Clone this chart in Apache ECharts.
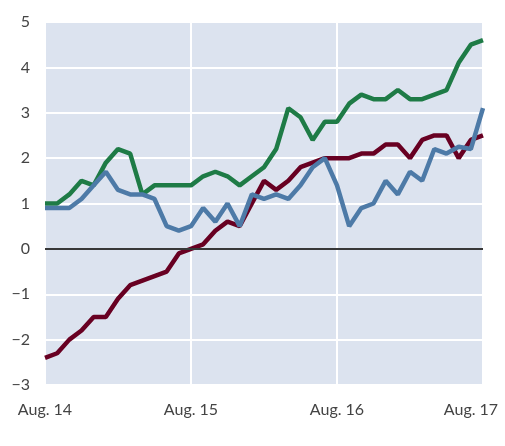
<!DOCTYPE html>
<html>
<head>
    <meta charset="utf-8">
    <title>ECharts</title>
    <script src="https://cdn.jsdelivr.net/npm/echarts@6/dist/echarts.min.js"></script>
    <style>
        html, body { margin: 0; padding: 0; background: #fff; }
    </style>
</head>
<body>
    <div id="main" style="width: 505px;height:446px;"></div>

    <script>
        // months, Aug. 14 .. Aug. 17
        var months = [
            'Aug. 14', 'Sep. 14', 'Oct. 14', 'Nov. 14', 'Dec. 14', 'Jan. 15', 'Feb. 15', 'Mar. 15',
            'Apr. 15', 'May. 15', 'Jun. 15', 'Jul. 15', 'Aug. 15', 'Sep. 15', 'Oct. 15', 'Nov. 15',
            'Dec. 15', 'Jan. 16', 'Feb. 16', 'Mar. 16', 'Apr. 16', 'May. 16', 'Jun. 16', 'Jul. 16',
            'Aug. 16', 'Sep. 16', 'Oct. 16', 'Nov. 16', 'Dec. 16', 'Jan. 17', 'Feb. 17', 'Mar. 17',
            'Apr. 17', 'May. 17', 'Jun. 17', 'Jul. 17', 'Aug. 17'
        ];

        // green series
        var greenData = [
            1.0, 1.0, 1.2, 1.5, 1.4, 1.9, 2.2, 2.1, 1.2, 1.4, 1.4, 1.4, 1.4,
            1.6, 1.7, 1.6, 1.4, 1.6, 1.8, 2.2, 3.1, 2.9, 2.4, 2.8, 2.8,
            3.2, 3.4, 3.3, 3.3, 3.5, 3.3, 3.3, 3.4, 3.5, 4.1, 4.5, 4.6
        ];

        // maroon series
        var redData = [
            -2.4, -2.3, -2.0, -1.8, -1.5, -1.5, -1.1, -0.8, -0.7, -0.6, -0.5, -0.1, 0.0,
            0.1, 0.4, 0.6, 0.5, 1.0, 1.5, 1.3, 1.5, 1.8, 1.9, 2.0, 2.0,
            2.0, 2.1, 2.1, 2.3, 2.3, 2.0, 2.4, 2.5, 2.5, 2.0, 2.4, 2.5
        ];

        // blue series
        var blueData = [
            0.9, 0.9, 0.9, 1.1, 1.4, 1.7, 1.3, 1.2, 1.2, 1.1, 0.5, 0.4, 0.5,
            0.9, 0.6, 1.0, 0.5, 1.2, 1.1, 1.2, 1.1, 1.4, 1.8, 2.0, 1.4,
            0.5, 0.9, 1.0, 1.5, 1.2, 1.7, 1.5, 2.2, 2.1, 2.25, 2.2, 3.1
        ];

        var labelFont = 'Lato, "Open Sans", sans-serif';
        var labelColor = '#444444';

        var myChart = echarts.init(document.getElementById('main'));

        var option = {
            animation: false,
            backgroundColor: '#ffffff',
            grid: {
                left: 45,
                right: 22,
                top: 22,
                bottom: 61,
                show: true,
                backgroundColor: '#dce3ef',
                borderWidth: 0
            },
            xAxis: {
                type: 'category',
                boundaryGap: false,
                data: months,
                axisLine: { show: false },
                axisTick: { show: false },
                axisLabel: {
                    interval: 11,
                    margin: 17,
                    fontFamily: labelFont,
                    fontSize: 16,
                    color: labelColor,
                    formatter: function (v, i) {
                        // last label sits inside the chart edge
                        if (i === months.length - 1) return '{last|' + v + '}';
                        return v;
                    },
                    rich: {
                        last: {
                            fontFamily: labelFont,
                            fontSize: 16,
                            color: labelColor,
                            padding: [0, 24, 0, 0]
                        }
                    }
                },
                splitLine: {
                    show: true,
                    interval: 11,
                    lineStyle: { color: '#ffffff', width: 2 }
                }
            },
            yAxis: {
                type: 'value',
                min: -3,
                max: 5,
                interval: 1,
                axisLine: { show: false },
                axisTick: { show: false },
                axisLabel: {
                    margin: 15,
                    fontFamily: labelFont,
                    fontSize: 16,
                    color: labelColor,
                    formatter: function (v) {
                        return v < 0 ? '\u2212' + Math.abs(v) : String(v);
                    }
                },
                splitLine: {
                    lineStyle: { color: '#ffffff', width: 2 }
                }
            },
            series: [
                {
                    name: 'green',
                    type: 'line',
                    data: greenData,
                    symbol: 'none',
                    lineStyle: { color: '#1e7b46', width: 4.5 },
                    markLine: {
                        silent: true,
                        symbol: 'none',
                        label: { show: false },
                        lineStyle: { color: '#383838', width: 2, type: 'solid' },
                        data: [{ yAxis: 0 }]
                    },
                    z: 3
                },
                {
                    name: 'maroon',
                    type: 'line',
                    data: redData,
                    symbol: 'none',
                    lineStyle: { color: '#680022', width: 4.5 },
                    z: 4
                },
                {
                    name: 'blue',
                    type: 'line',
                    data: blueData,
                    symbol: 'none',
                    lineStyle: { color: '#4d7aa7', width: 4.5 },
                    z: 5
                }
            ]
        };

        myChart.setOption(option);
    </script>
</body>
</html>
